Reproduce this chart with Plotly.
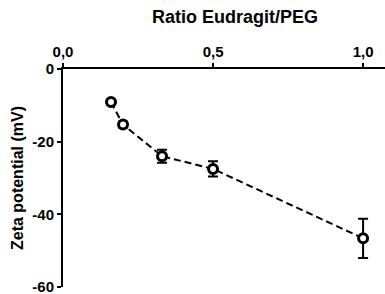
import plotly.graph_objects as go

ratio = [0.16, 0.20, 0.33, 0.50, 1.00]
zeta = [-9.1, -15.3, -24.0, -27.5, -46.6]
zeta_err = [0.6, 0.8, 1.8, 2.1, 5.4]

x_ticks = [0.0, 0.5, 1.0]
x_tick_labels = ["0,0", "0,5", "1,0"]
y_ticks = [0, -20, -40, -60]
y_tick_labels = ["0", "-20", "-40", "-60"]

FAM = "Liberation Sans, Arial, sans-serif"

fig = go.Figure()
fig.add_trace(go.Scatter(
    x=ratio, y=zeta,
    mode="lines+markers",
    line=dict(color="black", width=2, dash="7px,4px"),
    marker=dict(symbol="circle", size=9, color="white",
                line=dict(color="black", width=3)),
    error_y=dict(type="data", array=zeta_err, visible=True,
                 color="black", thickness=2, width=5),
    showlegend=False,
    cliponaxis=False,
))

fig.update_layout(
    width=385, height=294,
    margin=dict(l=63, r=0, t=69, b=7, autoexpand=False),
    plot_bgcolor="white", paper_bgcolor="white",
    font=dict(family=FAM, color="black"),
    title=dict(text="Ratio Eudragit/PEG", x=235 / 385, xanchor="center",
               xref="container", y=1 - 17 / 294, yref="container", yanchor="middle",
               font=dict(size=18, family=FAM, color="black", weight="bold")),
    xaxis=dict(
        side="top", range=[0, 1.073], showgrid=False, zeroline=False,
        showline=True, linecolor="black", linewidth=2, automargin=False,
        ticks="outside", ticklen=4, tickwidth=2, tickcolor="black",
        tickvals=x_ticks, ticktext=x_tick_labels, ticklabeloverflow="allow",
        tickfont=dict(size=15, family=FAM, color="black", weight="bold"),
    ),
    yaxis=dict(
        range=[-60, 0], showgrid=False, zeroline=False,
        showline=True, linecolor="black", linewidth=2, automargin=False,
        ticks="outside", ticklen=4, tickwidth=2, tickcolor="black",
        tickvals=y_ticks, ticktext=y_tick_labels, ticklabeloverflow="allow",
        tickfont=dict(size=15, family=FAM, color="black", weight="bold"),
        title=dict(text="Zeta potential (mV)", standoff=5,
                   font=dict(size=16, family=FAM, color="black", weight="bold")),
    ),
)
fig.write_html("out.html",
               config={"displayModeBar": False},
               post_script="document.body.style.margin='0';document.body.style.padding='0';")
